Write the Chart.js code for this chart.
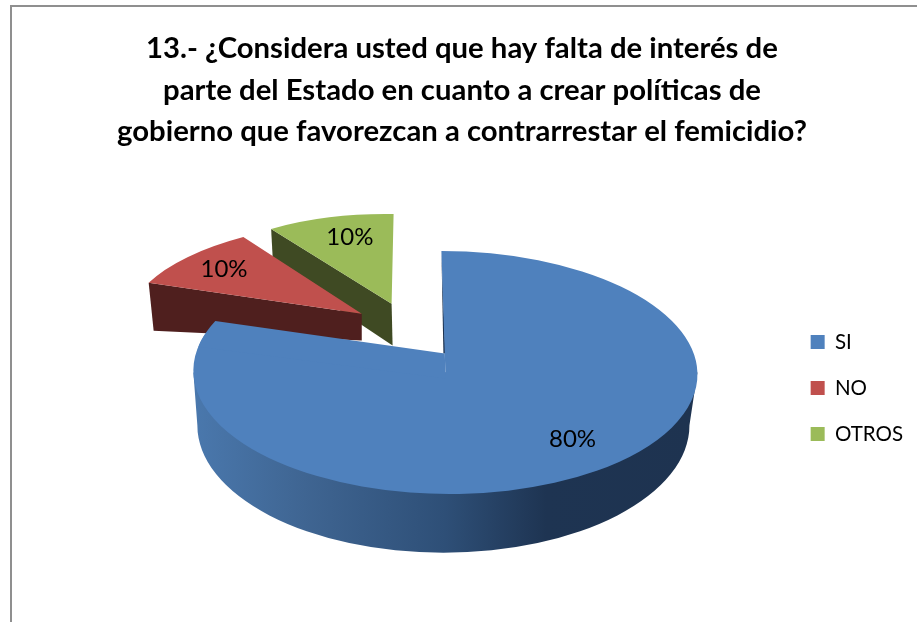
<!DOCTYPE html>
<html><head><meta charset="utf-8">
<style>
html,body{margin:0;padding:0;background:#fff;overflow:hidden}
#wrap{position:relative;width:917px;height:622px}
#frame{position:absolute;left:10px;top:5px;right:0;bottom:0;border-left:2px solid #8f8f8f;border-top:2px solid #8f8f8f;pointer-events:none}
canvas{position:absolute;left:0;top:0}
</style>
<script src="https://cdn.jsdelivr.net/npm/chart.js@4"></script>
</head><body>
<div id="wrap"><canvas id="c" width="917" height="622"></canvas><div id="frame"></div></div>
<script>
const categories = ["SI", "NO", "OTROS"];
const seriesValues = [80, 10, 10];
const sliceColors = ["#4f81bd", "#c0504d", "#9bbb59"];
const titleLines = [
  "13.- ¿Considera usted que hay falta de interés de",
  "parte del Estado en cuanto a crear políticas de",
  "gobierno que favorezcan a contrarrestar el femicidio?"
];

// 3D view of each slice: maps the library's circular arc onto the tilted plane.
// Numbers are relative to the arc's own centre, for the library radius REF_R.
const REF_R = 235;
const BASE = {x: 397.5, y: 387.5};
const views = [
  {A: [445 - BASE.x, 372 - BASE.y], M: [253, 4, 0, 122], label: [0.84, 0.68]},
  {A: [361 - BASE.x, 313 - BASE.y], M: [231.9, -21.6, 2.2, 93.5], label: [0.79, 0.79], wall: {c: "#4f1f1e", start: [5, 48], apex: [0, 27]}},
  {A: [391 - BASE.x, 303 - BASE.y], M: [208.5, -2, 3.7, 90], label: [0.67, 0.77], wall: {c: "#3f4a23", start: [2, 37], apex: [1, 42]}}
];
const blueSide = {rx: 253, lowerDx: -2, lowerDy: 53, lowerRx: 247, lowerRy: 128,
  notchDeg: 7, apexDy: -19,
  stops: [[0, "#4a78ad"], [0.22, "#3f6592"], [0.5, "#2e4f77"], [0.7, "#1e3452"], [1, "#1e3350"]]};

function pointOn(v, el, theta, S) {
  const x = Math.cos(theta), y = Math.sin(theta);
  return [el.x + S * (v.A[0] + v.M[0] * x + v.M[1] * y),
          el.y + S * (v.A[1] + v.M[2] * x + v.M[3] * y)];
}
function face(ctx, el, v, S, extra) {
  ctx.save();
  const k = S / el.outerRadius;
  ctx.translate(el.x + v.A[0] * S, el.y + v.A[1] * S);
  ctx.transform(v.M[0] * k, v.M[2] * k, v.M[1] * k, v.M[3] * k, 0, 0);
  ctx.translate(-el.x, -el.y);
  el.draw(ctx);
  if (extra) extra();
  ctx.restore();
}
function wall(ctx, el, v, S) {
  const p = pointOn(v, el, el.startAngle, S);
  const ax = el.x + v.A[0] * S, ay = el.y + v.A[1] * S;
  ctx.fillStyle = v.wall.c;
  ctx.beginPath();
  ctx.moveTo(p[0], p[1]);
  ctx.lineTo(ax, ay);
  ctx.lineTo(ax + v.wall.apex[0] * S, ay + v.wall.apex[1] * S);
  ctx.lineTo(p[0] + v.wall.start[0] * S, p[1] + v.wall.start[1] * S);
  ctx.closePath();
  ctx.fill();
}
const pie3d = {
  id: "pie3d",
  beforeDatasetDraw(chart, args) {
    const ctx = chart.ctx, els = args.meta.data;
    const S = els[0].outerRadius / REF_R;
    // far slices first
    for (const i of [2, 1]) {
      wall(ctx, els[i], views[i], S);
      face(ctx, els[i], views[i], S);
    }
    const el = els[0], v = views[0], b = blueSide;
    const cx = el.x + v.A[0] * S, cy = el.y + v.A[1] * S;
    const lx = cx + b.lowerDx * S, ly = cy + b.lowerDy * S;
    const g = ctx.createLinearGradient(cx - b.rx * S, 0, cx + b.rx * S, 0);
    b.stops.forEach(s => g.addColorStop(s[0], s[1]));
    ctx.fillStyle = g;
    ctx.beginPath();
    ctx.moveTo(cx - b.rx * S, cy);
    ctx.lineTo(lx - b.lowerRx * S, ly);
    ctx.ellipse(lx, ly, b.lowerRx * S, b.lowerRy * S, 0, Math.PI, 0, true);
    ctx.lineTo(cx + b.rx * S, cy);
    ctx.closePath();
    ctx.fill();
    // thin inner wall of the opening
    const top = pointOn(v, el, el.startAngle, S);
    ctx.fillStyle = "#1e3350";
    ctx.beginPath();
    ctx.moveTo(top[0], top[1]);
    ctx.lineTo(cx - 2 * S, cy + b.apexDy * S);
    ctx.lineTo(cx, cy + b.apexDy * S);
    ctx.closePath();
    ctx.fill();
    face(ctx, el, v, S, () => {
      const R = el.outerRadius, n = el.endAngle + b.notchDeg * Math.PI / 180;
      ctx.fillStyle = sliceColors[0];
      ctx.beginPath();
      ctx.moveTo(el.x, el.y + R * b.apexDy / v.M[3]);
      ctx.lineTo(el.x + R * Math.cos(n), el.y + R * Math.sin(n));
      ctx.arc(el.x, el.y, R, n, el.endAngle - 0.1, true);
      ctx.lineTo(el.x, el.y + 0.05 * R);
      ctx.closePath();
      ctx.fill();
    });
    // percentage labels
    const total = seriesValues.reduce((a, c) => a + c, 0);
    ctx.fillStyle = "#000";
    ctx.font = "24px Lato";
    ctx.textAlign = "center";
    ctx.textBaseline = "middle";
    els.forEach((e, i) => {
      const w = views[i], mid = (e.startAngle + e.endAngle) / 2;
      const p = pointOn({A: [0, 0], M: w.M}, {x: 0, y: 0}, mid, S);
      ctx.fillText(Math.round(seriesValues[i] / total * 100) + "%",
        e.x + w.A[0] * S + p[0] * w.label[0],
        e.y + w.A[1] * S + p[1] * w.label[1]);
    });
    return false;
  }
};
new Chart(document.getElementById("c"), {
  type: "pie",
  plugins: [pie3d],
  data: {
    labels: categories,
    datasets: [{data: seriesValues, backgroundColor: sliceColors, borderWidth: 0}]
  },
  options: {
    responsive: false,
    animation: false,
    layout: {padding: {left: 11, right: 4, top: 0, bottom: 0}},
    plugins: {
      tooltip: {enabled: false},
      title: {
        display: true,
        text: titleLines,
        color: "#000",
        font: {family: "Lato", size: 29.3, weight: "bold", lineHeight: 1.42},
        padding: {top: 28, bottom: 1}
      },
      legend: {
        position: "right",
        fullSize: false,
        labels: {
          color: "#000",
          font: {family: "Lato", size: 20.5},
          boxWidth: 14,
          boxHeight: 14,
          padding: 25.5
        }
      }
    }
  }
});
</script>
</body></html>
